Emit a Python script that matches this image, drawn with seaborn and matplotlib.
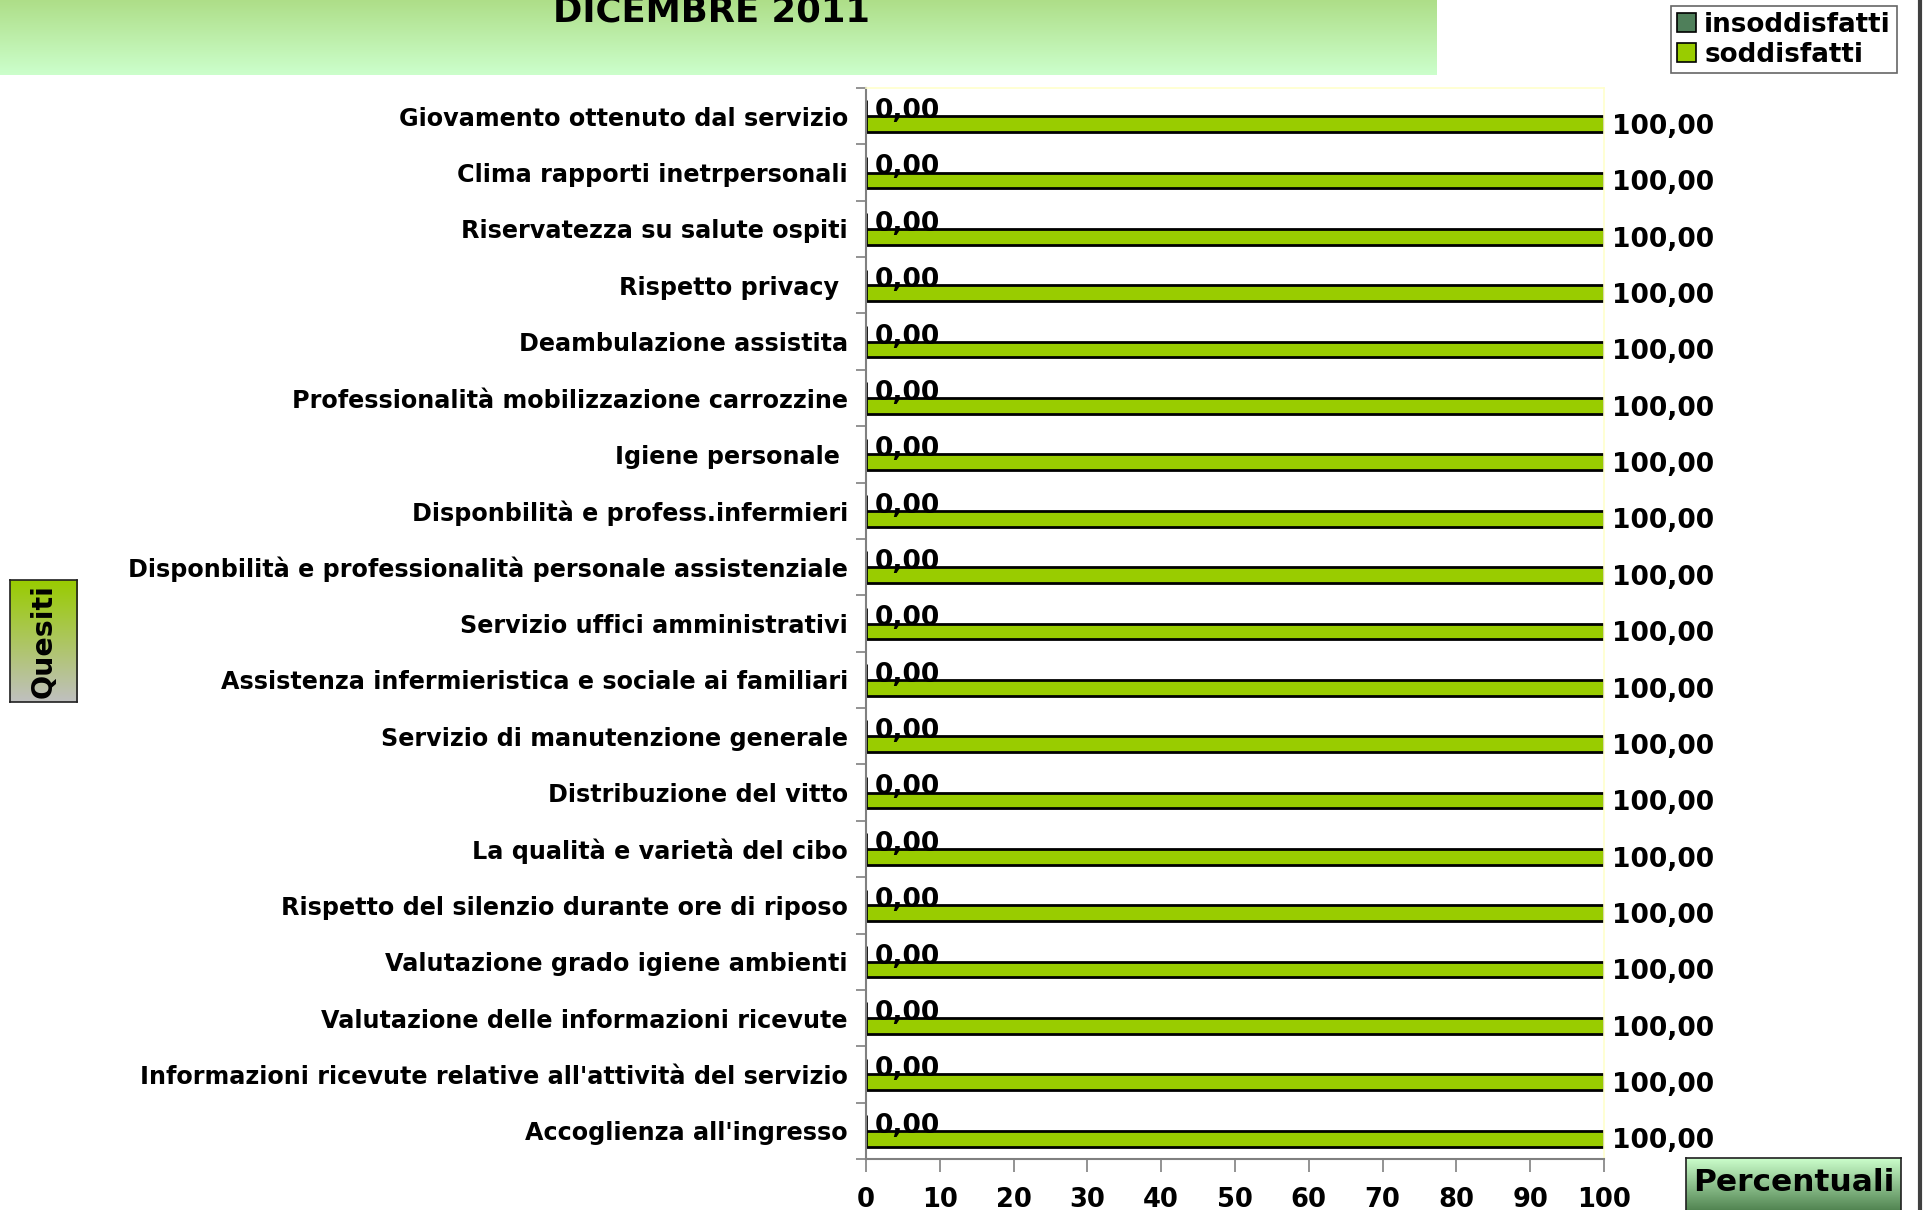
import numpy as np
import pandas as pd
import matplotlib
matplotlib.use("Agg")
import matplotlib.pyplot as plt
import seaborn as sns
from matplotlib.patches import Patch
from matplotlib.lines import Line2D
from matplotlib.colors import LinearSegmentedColormap

# ---------------- data ----------------
categories = [
    "Giovamento ottenuto dal servizio",
    "Clima rapporti inetrpersonali",
    "Riservatezza su salute ospiti",
    "Rispetto privacy ",
    "Deambulazione assistita",
    "Professionalità mobilizzazione carrozzine",
    "Igiene personale ",
    "Disponbilità e profess.infermieri",
    "Disponbilità e professionalità personale assistenziale",
    "Servizio uffici amministrativi",
    "Assistenza infermieristica e sociale ai familiari",
    "Servizio di manutenzione generale",
    "Distribuzione del vitto",
    "La qualità e varietà del cibo",
    "Rispetto del silenzio durante ore di riposo",
    "Valutazione grado igiene ambienti",
    "Valutazione delle informazioni ricevute",
    "Informazioni ricevute relative all'attività del servizio",
    "Accoglienza all'ingresso",
]
insoddisfatti = [0.0, 0.0, 0.0, 0.0, 0.0, 0.0, 0.0, 0.0, 0.0, 0.0,
                 0.0, 0.0, 0.0, 0.0, 0.0, 0.0, 0.0, 0.0, 0.0]
soddisfatti = [100.0, 100.0, 100.0, 100.0, 100.0, 100.0, 100.0, 100.0, 100.0, 100.0,
               100.0, 100.0, 100.0, 100.0, 100.0, 100.0, 100.0, 100.0, 100.0]
series_names = ["insoddisfatti", "soddisfatti"]
x_ticks = [0, 10, 20, 30, 40, 50, 60, 70, 80, 90, 100]
title = "DICEMBRE 2011"

df = pd.DataFrame({
    "Quesito": categories * 2,
    "Gruppo": [series_names[0]] * len(categories) + [series_names[1]] * len(categories),
    "Valore": insoddisfatti + soddisfatti,
})

# ---------------- figure ----------------
sns.set_style("white")
plt.rcParams["font.family"] = ["DejaVu Sans"]
plt.rcParams["text.color"] = "black"
plt.rcParams["xtick.color"] = "black"
plt.rcParams["ytick.color"] = "black"
plt.rcParams["axes.labelcolor"] = "black"

W, H = 1927, 1210
fig = plt.figure(figsize=(W / 100, H / 100), dpi=100)
fig.patch.set_facecolor("white")


def fx(px):
    return px / W


def fy(py):
    return 1 - py / H


def gradient_box(x0, y0, x1, y1, c_top, c_bot, border=None):
    a = fig.add_axes([fx(x0), fy(y1), fx(x1 - x0), (y1 - y0) / H])
    cmap = LinearSegmentedColormap.from_list("g", [c_top, c_bot])
    grad = np.linspace(0, 1, 256).reshape(-1, 1)
    a.imshow(grad, aspect="auto", cmap=cmap, extent=[0, 1, 1, 0])
    a.set_xticks([])
    a.set_yticks([])
    for s in a.spines.values():
        if border is None:
            s.set_visible(False)
        else:
            s.set_color(border)
            s.set_linewidth(1.2)
    return a


# title banner (title partly above the top edge, as in the original)
gradient_box(0, 0, 1437, 75, "#aede88", "#ccffcc")
fig.text(fx(711), fy(21), title, ha="center", va="baseline",
         fontsize=25.5, fontweight="bold", color="black")

# main axes
ax = fig.add_axes([fx(866), fy(1159), fx(1604 - 866), (1159 - 88) / H])
palette = {"insoddisfatti": "#4f7f5a", "soddisfatti": "#99cc00"}
sns.barplot(data=df, y="Quesito", x="Valore", hue="Gruppo",
            order=categories, hue_order=series_names, palette=palette,
            orient="h", width=0.56, edgecolor="black", linewidth=2,
            errorbar=None, legend=False, ax=ax, saturation=1)

fmt = lambda v: f"{v:.2f}".replace(".", ",")
for i, cont in enumerate(ax.containers):
    texts = ax.bar_label(cont, labels=[fmt(b.get_width()) for b in cont],
                         padding=6, fontsize=19, fontweight="bold", color="black")
    for t in texts:
        t.xyann = (6, -2)

ax.set_xlim(0, 100)
ax.set_ylim(len(categories) - 0.5, -0.5)
ax.set_xlabel("")
ax.set_ylabel("")
ax.set_facecolor("white")

ax.set_xticks(x_ticks)
ax.set_xticklabels([str(t) for t in x_ticks], fontsize=18.5, fontweight="bold")
ax.tick_params(axis="x", direction="out", length=9, width=1.2, color="#808080",
               labelcolor="black", pad=11, bottom=True)

ax.set_yticks(range(len(categories)))
ax.set_yticklabels(categories, fontsize=17.2, fontweight="bold")
ax.tick_params(axis="y", which="major", length=0, pad=13, labelcolor="black")
ax.set_yticks(np.arange(-0.5, len(categories), 1), minor=True)
ax.tick_params(axis="y", which="minor", direction="out", length=7, width=1.2,
               color="#808080", left=True)

for side in ["left", "bottom"]:
    ax.spines[side].set_color("#808080")
    ax.spines[side].set_linewidth(1.5)
for side in ["top", "right"]:
    ax.spines[side].set_color("#ffffcc")
    ax.spines[side].set_linewidth(1.2)

# legend
handles = [Patch(facecolor=palette[n], edgecolor="black", linewidth=1.2, label=n)
           for n in series_names]
leg = fig.legend(handles=handles, loc="upper left",
                 bbox_to_anchor=(fx(1671), fy(6)), frameon=True, fancybox=False,
                 prop={"weight": "bold", "size": 18.8}, handlelength=0.75,
                 handleheight=0.75, handletextpad=0.3, labelspacing=0.15,
                 borderpad=0.22, borderaxespad=0)
leg.get_frame().set_edgecolor("#404040")
leg.get_frame().set_linewidth(1.2)

# "Quesiti" box
qa = gradient_box(10, 580, 77, 702, "#99cc00", "#c0c0c0", border="#202020")
qa.text(0.5, 0.5, "Quesiti", rotation=90, ha="center", va="center",
        transform=qa.transAxes, fontsize=20.5, fontweight="bold")

# "Percentuali" box
pa = gradient_box(1686, 1158, 1901, 1212, "#ccffcc", "#4d804d", border="#202020")
pa.text(0.5, 0.55, "Percentuali", ha="center", va="center",
        transform=pa.transAxes, fontsize=22.5, fontweight="bold")

# right border line
fig.add_artist(Line2D([fx(1920), fx(1920)], [0, 1], color="#404040", lw=3,
                      transform=fig.transFigure))

fig.savefig("out.png", dpi=100, facecolor="white")
